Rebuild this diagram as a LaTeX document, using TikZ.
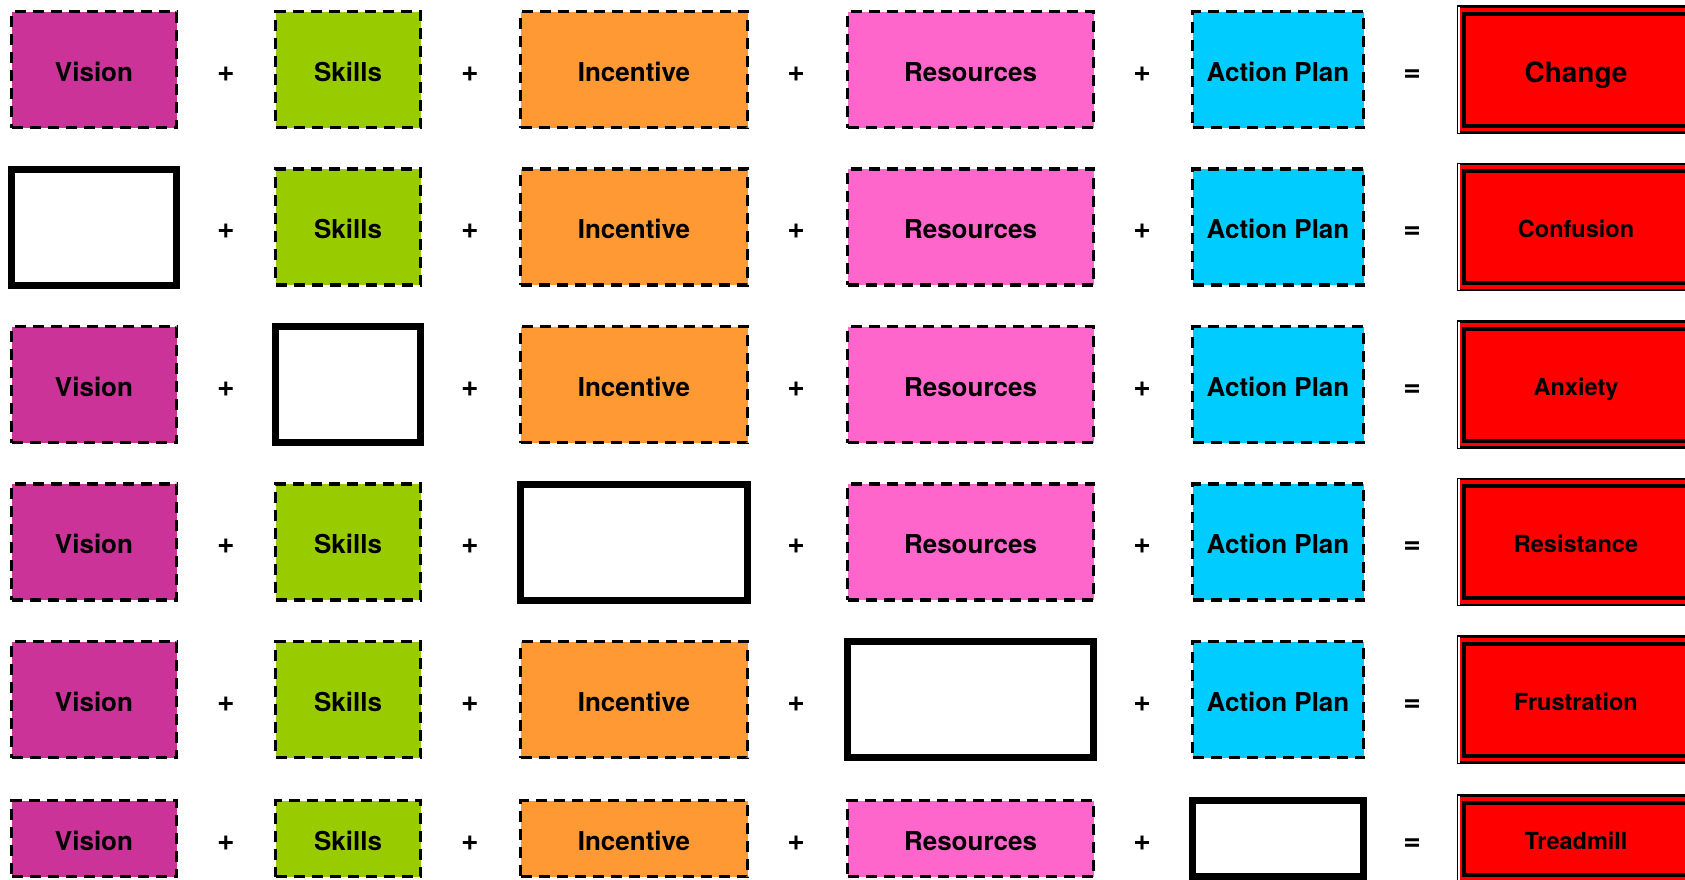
\documentclass[tikz,border=0pt]{standalone}
\usepackage{fontspec}
\setmainfont{TeX Gyre Heros}
\usepackage{tikz}
\usetikzlibrary{calc}

\definecolor{visioncol}{HTML}{CC3399}
\definecolor{skillcol}{HTML}{99CC00}
\definecolor{incentcol}{HTML}{FF9933}
\definecolor{rescol}{HTML}{FF66CC}
\definecolor{actcol}{HTML}{00CCFF}
\newcommand{\boxfont}{\fontsize{26pt}{30pt}\selectfont\bfseries}
\newcommand{\opfont}{\fontsize{30pt}{34pt}\selectfont\bfseries}
\newcommand{\outfont}{\fontsize{23.5pt}{28pt}\selectfont\bfseries}
\newcommand{\chgfont}{\fontsize{28pt}{32pt}\selectfont\bfseries}

\begin{document}
\begin{tikzpicture}[x=1pt,y=-1pt]
	\def \rowone{69.5}
	\def \rowtwo{227}
	\def \rowthree{384.5}
	\def \rowfour{542}
	\def \rowfive{699.5}
	\def \rowsix{838.5}
	\tikzstyle{d-box}=[rectangle,draw=black,line width=3.3pt,dash pattern=on 11pt off 7pt,inner sep=0pt,minimum height=116pt,text height=23.5pt,text depth=0pt,font=\boxfont]
	\tikzstyle{e-box}=[rectangle,draw=black,line width=7pt,fill=white,inner sep=0pt,minimum height=116pt]
	\tikzstyle{op}=[inner sep=0pt,text height=23.5pt,text depth=0pt,font=\opfont]
	\tikzstyle{c-box}=[rectangle,draw=black,line width=2.5pt,fill=red,inner sep=0pt,minimum width=236pt,minimum height=126pt,text height=21.7pt,text depth=0pt,font=\outfont]
	\tikzstyle{c-in}=[rectangle,draw=black,line width=4pt,inner sep=0pt,minimum width=225pt,minimum height=112pt]
	\tikzstyle{vision}=[d-box,fill=visioncol,minimum width=165pt]
	\tikzstyle{skills}=[d-box,fill=skillcol,minimum width=145pt]
	\tikzstyle{incent}=[d-box,fill=incentcol,minimum width=227pt]
	\tikzstyle{resour}=[d-box,fill=rescol,minimum width=246pt]
	\tikzstyle{action}=[d-box,fill=actcol,minimum width=171pt]
	\tikzstyle{gap}=[draw=none,fill=white]

	\useasboundingbox (0,0) rectangle (1685,879);
	\clip (0,0) rectangle (1685,879);

	% row one: everything in place
	\node[vision] 	(v1)	at (94,\rowone)		{Vision};
	\node[op] 	(p1a)	at (226,\rowone)	{+};
	\node[skills] 	(s1)	at (348,\rowone)	{Skills};
	\node[op] 	(p1b)	at (470,\rowone)	{+};
	\node[incent] 	(n1)	at (634,\rowone)	{Incentive};
	\node[op] 	(p1c)	at (796,\rowone)	{+};
	\node[resour] 	(r1)	at (970.5,\rowone)	{Resources};
	\node[op] 	(p1d)	at (1142,\rowone)	{+};
	\node[action] 	(a1)	at (1278,\rowone)	{Action Plan};
	\node[op] 	(q1)	at (1412,\rowone)	{=};
	\node[c-box,font=\chgfont,text height=25pt] 	(c1)	at (1576,\rowone)	{Change};
	\path[gap] ($(c1.north west)+(1.25,1.25)$) rectangle ($(c1.south west)+(3.5,-1.25)$);
	\node[c-in] 	(c1i)	at (c1)		{};

	% row two: no vision
	\node[e-box,minimum width=165pt] 	(v2)	at (94,\rowtwo)		{};
	\node[op] 	(p2a)	at (226,\rowtwo)	{+};
	\node[skills] 	(s2)	at (348,\rowtwo)	{Skills};
	\node[op] 	(p2b)	at (470,\rowtwo)	{+};
	\node[incent] 	(n2)	at (634,\rowtwo)	{Incentive};
	\node[op] 	(p2c)	at (796,\rowtwo)	{+};
	\node[resour] 	(r2)	at (970.5,\rowtwo)	{Resources};
	\node[op] 	(p2d)	at (1142,\rowtwo)	{+};
	\node[action] 	(a2)	at (1278,\rowtwo)	{Action Plan};
	\node[op] 	(q2)	at (1412,\rowtwo)	{=};
	\node[c-box] 	(c2)	at (1576,\rowtwo)	{Confusion};
	\path[gap] ($(c2.north west)+(1.25,1.25)$) rectangle ($(c2.south west)+(3.5,-1.25)$);
	\node[c-in] 	(c2i)	at (c2)		{};

	% row three: no skills
	\node[vision] 	(v3)	at (94,\rowthree)	{Vision};
	\node[op] 	(p3a)	at (226,\rowthree)	{+};
	\node[e-box,minimum width=145pt] 	(s3)	at (348,\rowthree)	{};
	\node[op] 	(p3b)	at (470,\rowthree)	{+};
	\node[incent] 	(n3)	at (634,\rowthree)	{Incentive};
	\node[op] 	(p3c)	at (796,\rowthree)	{+};
	\node[resour] 	(r3)	at (970.5,\rowthree)	{Resources};
	\node[op] 	(p3d)	at (1142,\rowthree)	{+};
	\node[action] 	(a3)	at (1278,\rowthree)	{Action Plan};
	\node[op] 	(q3)	at (1412,\rowthree)	{=};
	\node[c-box] 	(c3)	at (1576,\rowthree)	{Anxiety};
	\path[gap] ($(c3.north west)+(1.25,1.25)$) rectangle ($(c3.south west)+(3.5,-1.25)$);
	\node[c-in] 	(c3i)	at (c3)		{};

	% row four: no incentive
	\node[vision] 	(v4)	at (94,\rowfour)	{Vision};
	\node[op] 	(p4a)	at (226,\rowfour)	{+};
	\node[skills] 	(s4)	at (348,\rowfour)	{Skills};
	\node[op] 	(p4b)	at (470,\rowfour)	{+};
	\node[e-box,minimum width=227pt] 	(n4)	at (634,\rowfour)	{};
	\node[op] 	(p4c)	at (796,\rowfour)	{+};
	\node[resour] 	(r4)	at (970.5,\rowfour)	{Resources};
	\node[op] 	(p4d)	at (1142,\rowfour)	{+};
	\node[action] 	(a4)	at (1278,\rowfour)	{Action Plan};
	\node[op] 	(q4)	at (1412,\rowfour)	{=};
	\node[c-box] 	(c4)	at (1576,\rowfour)	{Resistance};
	\path[gap] ($(c4.north west)+(1.25,1.25)$) rectangle ($(c4.south west)+(3.5,-1.25)$);
	\node[c-in] 	(c4i)	at (c4)		{};

	% row five: no resources
	\node[vision] 	(v5)	at (94,\rowfive)	{Vision};
	\node[op] 	(p5a)	at (226,\rowfive)	{+};
	\node[skills] 	(s5)	at (348,\rowfive)	{Skills};
	\node[op] 	(p5b)	at (470,\rowfive)	{+};
	\node[incent] 	(n5)	at (634,\rowfive)	{Incentive};
	\node[op] 	(p5c)	at (796,\rowfive)	{+};
	\node[e-box,minimum width=246pt] 	(r5)	at (970.5,\rowfive)	{};
	\node[op] 	(p5d)	at (1142,\rowfive)	{+};
	\node[action] 	(a5)	at (1278,\rowfive)	{Action Plan};
	\node[op] 	(q5)	at (1412,\rowfive)	{=};
	\node[c-box] 	(c5)	at (1576,\rowfive)	{Frustration};
	\path[gap] ($(c5.north west)+(1.25,1.25)$) rectangle ($(c5.south west)+(3.5,-1.25)$);
	\node[c-in] 	(c5i)	at (c5)		{};

	% row six: no action plan (shorter row)
	\node[vision,minimum height=76pt] 	(v6)	at (94,\rowsix)		{Vision};
	\node[op] 	(p6a)	at (226,\rowsix)	{+};
	\node[skills,minimum height=76pt] 	(s6)	at (348,\rowsix)	{Skills};
	\node[op] 	(p6b)	at (470,\rowsix)	{+};
	\node[incent,minimum height=76pt] 	(n6)	at (634,\rowsix)	{Incentive};
	\node[op] 	(p6c)	at (796,\rowsix)	{+};
	\node[resour,minimum height=76pt] 	(r6)	at (970.5,\rowsix)	{Resources};
	\node[op] 	(p6d)	at (1142,\rowsix)	{+};
	\node[e-box,minimum width=171pt,minimum height=76pt] 	(a6)	at (1278,\rowsix)	{};
	\node[op] 	(q6)	at (1412,\rowsix)	{=};
	\node[c-box,minimum height=86pt] 	(c6)	at (1576,\rowsix)	{Treadmill};
	\path[gap] ($(c6.north west)+(1.25,1.25)$) rectangle ($(c6.south west)+(3.5,-1.25)$);
	\node[c-in,minimum height=72pt] 	(c6i)	at (c6)		{};
\end{tikzpicture}
\end{document}
